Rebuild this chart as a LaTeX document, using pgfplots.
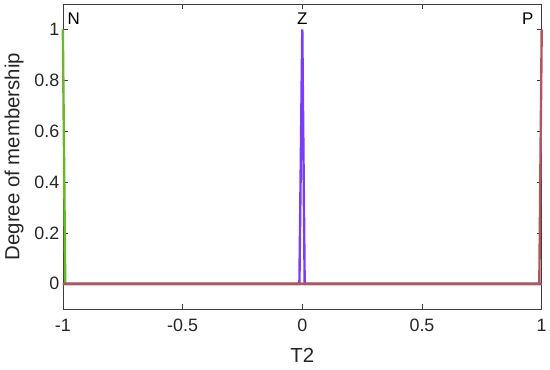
\documentclass[border=0pt]{standalone}
\usepackage{pgfplots}
\pgfplotsset{compat=1.18}
\usepackage{fontspec}
\setmainfont{Liberation Sans}
\definecolor{mfgreen}{RGB}{105,185,40}
\definecolor{mfpurple}{RGB}{125,60,245}
\definecolor{mfred}{RGB}{180,85,90}
\definecolor{axgray}{RGB}{60,60,60}
\begin{document}
\begin{tikzpicture}
\begin{axis}[
    scale only axis,
    width=480bp, height=306bp,
    xmin=-1, xmax=1,
    ymin=-0.1, ymax=1.1,
    xtick={-1,-0.5,0,0.5,1},
    ytick={0,0.2,0.4,0.6,0.8,1},
    xticklabels={-1,-0.5,0,0.5,1},
    yticklabels={0,0.2,0.4,0.6,0.8,1},
    tick align=inside,
    major tick length=5bp,
    axis line style={axgray, line width=0.6bp},
    tick style={axgray, line width=0.6bp},
    ticklabel style={font=\fontsize{18}{20}\selectfont, text=black!85},
    xticklabel style={yshift=-6bp},
    xlabel={T2},
    ylabel={Degree of membership},
    label style={font=\fontsize{20.5}{22}\selectfont, text=black!85},
    xlabel style={yshift=-10bp},
    ylabel style={yshift=4bp},
    clip=false,
]
% N
\addplot[mfgreen, line width=2.4bp] coordinates {(-1,1) (-0.99,0) (1,0)};
% Z
\addplot[mfpurple, line width=2.4bp] coordinates {(-1,0) (-0.012,0) (0,1) (0.01,0) (1,0)};
% P
\addplot[mfred, line width=2.4bp] coordinates {(-1,0) (0.99,0) (1,1)};
\node[anchor=base west, font=\fontsize{17}{19}\selectfont] at (axis cs:-0.995,1.02) {N};
\node[anchor=base, font=\fontsize{17}{19}\selectfont] at (axis cs:0,1.02) {Z};
\node[anchor=base east, font=\fontsize{17}{19}\selectfont] at (axis cs:0.98,1.02) {P};
\end{axis}
\useasboundingbox (current axis.south west) ++(-63bp,-60bp) rectangle ([shift={(7bp,4bp)}]current axis.north east);
\end{tikzpicture}
\end{document}
